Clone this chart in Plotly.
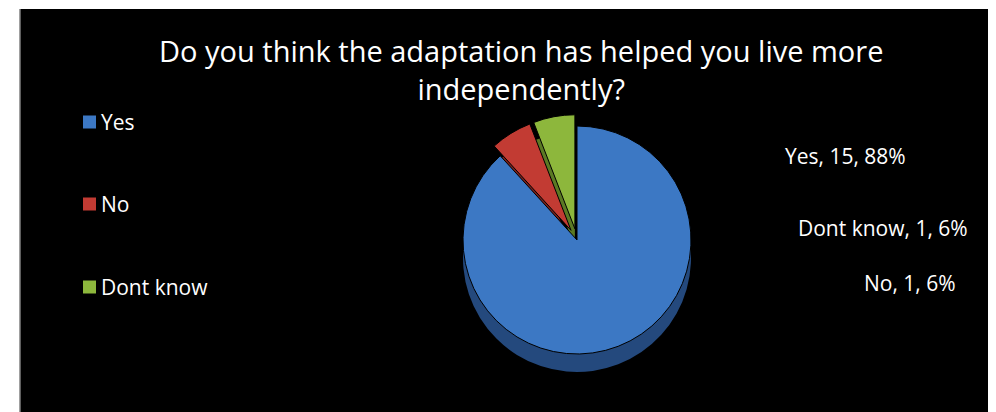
import plotly.graph_objects as go

# ---- data ----
labels = ["Yes", "No", "Dont know"]
values = [15, 1, 1]
percents = [88, 6, 6]
title_text = "Do you think the adaptation has helped you live more<br>independently?"

top_colors = ["#3C78C4", "#C23B33", "#8DB73C"]
side_colors = ["#24497D", "#7C211C", "#5B7A24"]
pulls = [0, 0.1, 0.1]

# The page body has an 8px margin, so the figure is sized to fit the window.
OFF = 8
W, H = 996 - OFF, 412 - OFF
L, T = 20 - OFF, 9 - OFF
PW, PH = W - L, H - T

def px(x):  # page pixel -> paper fraction
    return (x - OFF - L) / PW

def py(y):
    return (H - (y - OFF)) / PH

FONT = "Open Sans, sans-serif"

fig = go.Figure()

cx, cy, R = 577, 240, 114
half = R * (1 + max(pulls))
depth = 18

fig.add_trace(go.Pie(
    labels=labels, values=values, sort=False, direction="clockwise", rotation=0,
    pull=pulls, marker=dict(colors=side_colors, line=dict(width=0)),
    textinfo="none", hoverinfo="skip", showlegend=False,
    domain=dict(x=[px(cx - half), px(cx + half)],
                y=[py(cy + depth + half), py(cy + depth - half)]),
))
fig.add_trace(go.Pie(
    labels=labels, values=values, sort=False, direction="clockwise", rotation=0,
    pull=pulls, marker=dict(colors=top_colors, line=dict(color="#000000", width=1)),
    textinfo="none", hoverinfo="skip", showlegend=False,
    domain=dict(x=[px(cx - half), px(cx + half)],
                y=[py(cy + half), py(cy - half)]),
))

shapes = [
    dict(type="rect", xref="paper", yref="paper", x0=0, x1=1, y0=0, y1=1,
         fillcolor="#000000", line=dict(width=0), layer="below"),
    dict(type="line", xref="paper", yref="paper", x0=0, x1=0, y0=0, y1=1,
         line=dict(color="#7F7F7F", width=1.5)),
]

annotations = []
leg_y = [122, 204, 287]
for lab, col, ly in zip(labels, top_colors, leg_y):
    shapes.append(dict(type="rect", xref="paper", yref="paper",
                       x0=px(83), x1=px(96), y0=py(ly + 6.5), y1=py(ly - 6.5),
                       fillcolor=col, line=dict(width=0)))
    annotations.append(dict(text=lab, xref="paper", yref="paper", x=px(99), y=py(ly),
                            xanchor="left", yanchor="middle", showarrow=False,
                            font=dict(family=FONT, size=21, color="#FFFFFF")))

lab_pos = {"Yes": (845, 156), "Dont know": (883, 228), "No": (910, 283)}
for lab, v, p in zip(labels, values, percents):
    x, y = lab_pos[lab]
    annotations.append(dict(text=f"{lab}, {v}, {p}%", xref="paper", yref="paper",
                            x=px(x), y=py(y), xanchor="center", yanchor="middle",
                            showarrow=False,
                            font=dict(family=FONT, size=21, color="#FFFFFF")))

annotations.append(dict(text=title_text, xref="paper", yref="paper",
                        x=px(521), y=py(29), xanchor="center", yanchor="top",
                        showarrow=False, align="center",
                        font=dict(family=FONT, size=29, color="#FFFFFF")))

fig.update_layout(
    width=W, height=H,
    margin=dict(l=L, t=T, r=0, b=0, pad=0),
    paper_bgcolor="#FFFFFF",
    showlegend=False,
    shapes=shapes,
    annotations=annotations,
)

fig.write_html("out.html", config={"displayModeBar": False})
